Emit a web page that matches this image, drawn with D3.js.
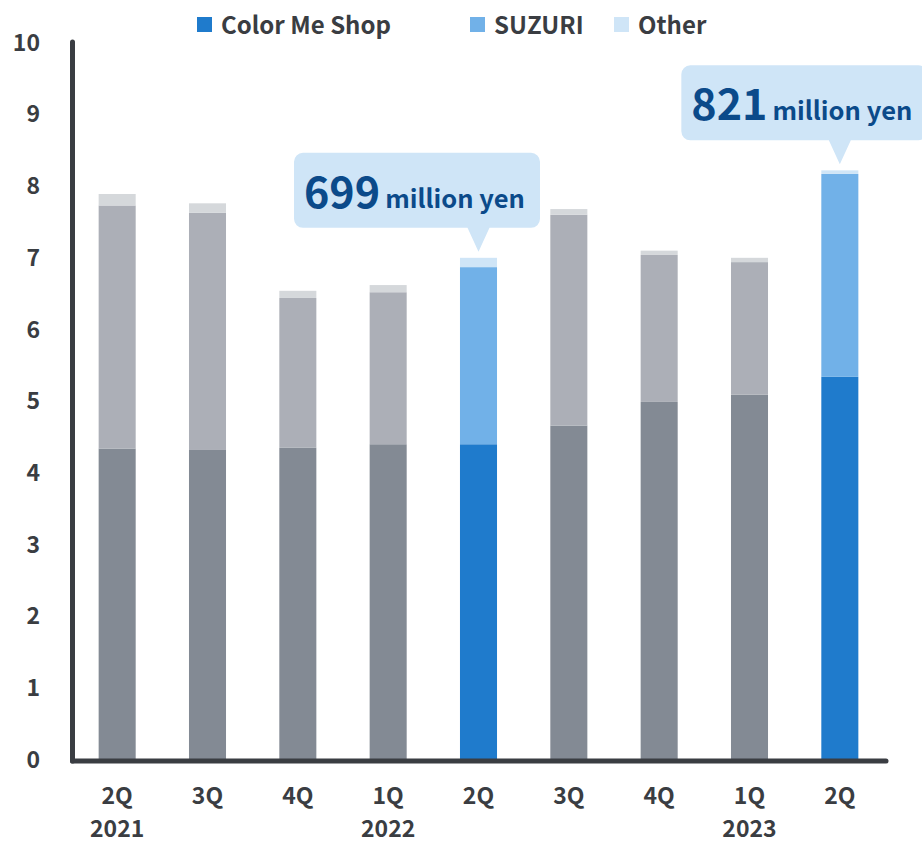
<!DOCTYPE html>
<html>
<head>
<meta charset="utf-8">
<script src="https://cdn.jsdelivr.net/npm/d3@7"></script>
<style>
  html, body { margin: 0; padding: 0; background: #fff; }
  svg { display: block; }
  text { font-family: "Noto Sans CJK JP", "Noto Sans", sans-serif; font-weight: 700; }
</style>
</head>
<body>
<svg id="chart" width="922" height="844"></svg>
<script>
// Quarterly net sales by service (hundred million yen)
const quarters = ["2Q", "3Q", "4Q", "1Q", "2Q", "3Q", "4Q", "1Q", "2Q"];
const years = ["2021", "", "", "2022", "", "", "", "2023", ""];
const colorMeShop = [4.33, 4.31, 4.34, 4.39, 4.39, 4.65, 4.98, 5.08, 5.33];
const suzuri      = [3.39, 3.31, 2.09, 2.12, 2.47, 2.94, 2.05, 1.85, 2.83];
const other       = [0.16, 0.13, 0.10, 0.10, 0.13, 0.08, 0.06, 0.06, 0.05];
const highlighted = [false, false, false, false, true, false, false, false, true];
const seriesNames = ["Color Me Shop", "SUZURI", "Other"];
const yTicks = [0, 1, 2, 3, 4, 5, 6, 7, 8, 9, 10];

const colors = ["#1f7bcc", "#71b1e8", "#cfe5f7"];
const mutedColors = ["#838a94", "#acafb7", "#d5d8db"];
const axisColor = "#3a3d42";
const textColor = "#3a3d42";
const calloutFill = "#cfe5f7";
const calloutText = "#0b4a8a";

const svg = d3.select("#chart");

const rows = quarters.map((q, i) => ({
  i, q, year: years[i],
  "Color Me Shop": colorMeShop[i],
  "SUZURI": suzuri[i],
  "Other": other[i],
  hl: highlighted[i]
}));

const x = d3.scaleBand()
  .domain(rows.map(d => d.i))
  .range([72, 885])
  .paddingInner(0.59)
  .paddingOuter(0.295);

const y = d3.scaleLinear().domain([0, 10]).range([759, 42]);

const stacked = d3.stack().keys(seriesNames)(rows);

// stacked bars
stacked.forEach((layer, k) => {
  svg.append("g")
    .selectAll("rect")
    .data(layer)
    .join("rect")
    .attr("x", d => x(d.data.i))
    .attr("width", x.bandwidth())
    .attr("y", d => y(d[1]))
    .attr("height", d => y(d[0]) - y(d[1]))
    .attr("fill", d => d.data.hl ? colors[k] : mutedColors[k]);
});

// y axis labels
const yAxis = d3.axisLeft(y).tickValues(yTicks).tickSize(0).tickPadding(0).tickFormat(d3.format("d"));
const gy = svg.append("g").attr("transform", "translate(40,0)").call(yAxis);
gy.select(".domain").remove();
gy.selectAll("text")
  .attr("fill", textColor)
  .style("font-size", "23px")
  .attr("dy", "0.36em");

// axis lines
svg.append("line")
  .attr("x1", 72.5).attr("x2", 72.5)
  .attr("y1", y(10)).attr("y2", 761)
  .attr("stroke", axisColor).attr("stroke-width", 5).attr("stroke-linecap", "round");
svg.append("line")
  .attr("x1", 72.5).attr("x2", 886)
  .attr("y1", 761).attr("y2", 761)
  .attr("stroke", axisColor).attr("stroke-width", 5).attr("stroke-linecap", "round");

// x axis labels: quarter, with the fiscal year underneath
const xAxis = d3.axisBottom(x).tickSize(0).tickPadding(0).tickFormat(i => quarters[i]);
const gx = svg.append("g").attr("transform", "translate(0,795.5)").call(xAxis);
gx.select(".domain").remove();
gx.selectAll("text")
  .attr("fill", textColor)
  .style("font-size", "23px")
  .attr("y", 0)
  .attr("dy", "0.36em");

svg.append("g")
  .selectAll("text")
  .data(rows.filter(d => d.year))
  .join("text")
  .attr("x", d => x(d.i) + x.bandwidth() / 2)
  .attr("y", 837.4)
  .attr("text-anchor", "middle")
  .attr("fill", textColor)
  .style("font-size", "23px")
  .text(d => d.year);

// legend
const legendX = [197, 470, 614];
const legend = svg.append("g");
seriesNames.forEach((name, k) => {
  legend.append("rect")
    .attr("x", legendX[k]).attr("y", 17)
    .attr("width", 15).attr("height", 15)
    .attr("fill", colors[k]);
  legend.append("text")
    .attr("x", legendX[k] + 24).attr("y", 25)
    .attr("dy", "0.36em")
    .attr("fill", textColor)
    .style("font-size", "24px")
    .text(name);
});

// callouts for the highlighted quarters: box offset from the bar centre
const calloutBoxLeft = { 4: -184.5, 8: -158.5 };
const boxW = 246, boxH = 75, pointerH = 24, pointerHalf = 11, gap = 6, r = 9;

rows.filter(d => d.hl).forEach(d => {
  const total = d["Color Me Shop"] + d["SUZURI"] + d["Other"];
  const cx = x(d.i) + x.bandwidth() / 2;
  const tipY = y(total) - gap;
  const bottom = tipY - pointerH;
  const top = bottom - boxH;
  const left = cx + calloutBoxLeft[d.i];
  const right = left + boxW;

  const p = d3.path();
  p.moveTo(left + r, top);
  p.lineTo(right - r, top);
  p.arcTo(right, top, right, top + r, r);
  p.lineTo(right, bottom - r);
  p.arcTo(right, bottom, right - r, bottom, r);
  p.lineTo(cx + pointerHalf, bottom);
  p.lineTo(cx, tipY);
  p.lineTo(cx - pointerHalf, bottom);
  p.lineTo(left + r, bottom);
  p.arcTo(left, bottom, left, bottom - r, r);
  p.lineTo(left, top + r);
  p.arcTo(left, top, left + r, top, r);
  p.closePath();

  svg.append("path").attr("d", p.toString()).attr("fill", calloutFill);

  const t = svg.append("text")
    .attr("x", left + 10)
    .attr("y", top + 55)
    .attr("fill", calloutText);
  t.append("tspan").style("font-size", "43px").text(Math.round(total * 100));
  t.append("tspan").attr("dx", 5).style("font-size", "25.5px").text("million yen");
});
</script>
</body>
</html>
